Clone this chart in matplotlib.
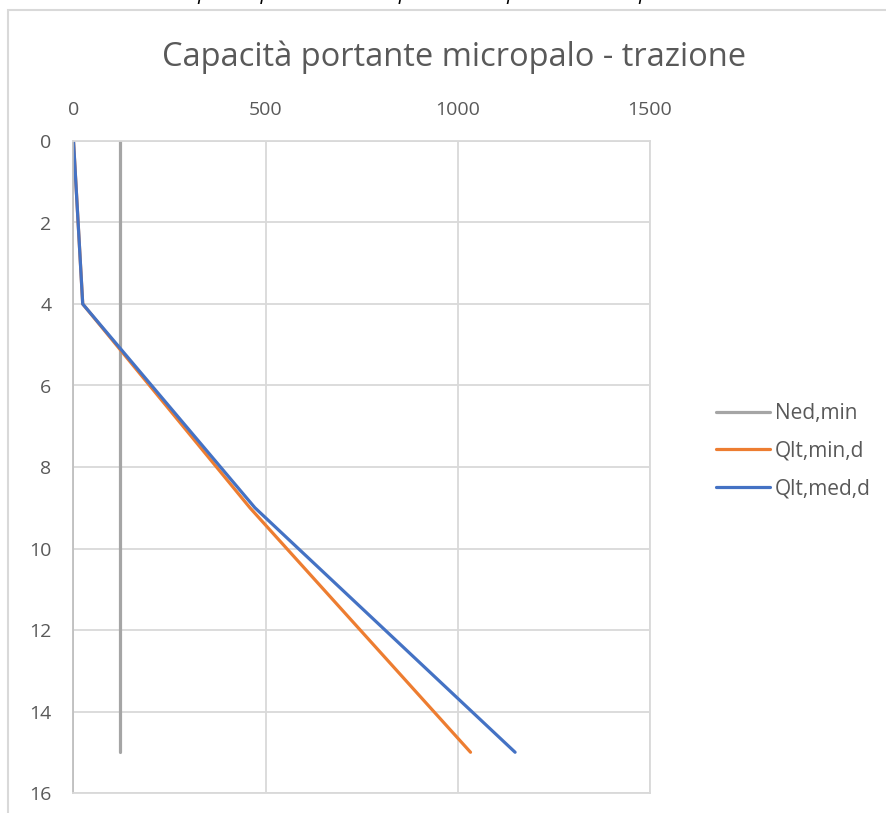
import numpy as np
import matplotlib
matplotlib.use("Agg")
import matplotlib.pyplot as plt
from matplotlib.patches import Rectangle

plt.rcParams['font.family'] = ['Open Sans', 'DejaVu Sans']

# depth (m) vs capacity (kN)
ned_depth = [0, 15]
ned_val = [120, 120]

qmin_depth = [0, 4, 9, 15]
qmin_val = [0, 24, 459, 1033]

qmed_depth = [0, 4, 9, 15]
qmed_val = [0, 24, 472, 1149]

title = "Capacità portante micropalo - trazione"
series_names = ["Ned,min", "Qlt,min,d", "Qlt,med,d"]

W, H = 887, 813
fig = plt.figure(figsize=(W / 100, H / 100), dpi=100)

# chart frame (cropped screenshot of the excel chart)
fig.patches.append(Rectangle((8 / W, -0.1), 1.1, 1.1 - 10 / H,
                             transform=fig.transFigure, fill=False,
                             edgecolor='#D9D9D9', linewidth=1.5))

# document caption cut off at the top, only descenders remain
fig.text(0.5, 1 + 1 / H, "Calcolo capacità portante micropalo in compressione con parametri medi",
         ha='center', va='baseline', fontsize=15, style='italic', color='black')

ax = fig.add_axes([73.5 / W, 1 - 793 / H, (650 - 73.5) / W, (793 - 141) / H])

ax.plot(ned_val, ned_depth, color='#A5A5A5', lw=2.3, solid_capstyle='round', label=series_names[0])
ax.plot(qmin_val, qmin_depth, color='#ED7D31', lw=2.3, solid_capstyle='round', label=series_names[1])
ax.plot(qmed_val, qmed_depth, color='#4472C4', lw=2.3, solid_capstyle='round', label=series_names[2])

ax.set_xlim(0, 1500)
ax.set_ylim(16, 0)
ax.set_xticks([0, 500, 1000, 1500])
ax.set_yticks(np.arange(0, 17, 2))
ax.xaxis.tick_top()
ax.grid(True, color='#D9D9D9', lw=1.3)
ax.set_axisbelow(True)
for s in ['right', 'bottom', 'top']:
    ax.spines[s].set_color('#D9D9D9')
    ax.spines[s].set_linewidth(1.3)
ax.spines['left'].set_color('#BFBFBF')
ax.spines['left'].set_linewidth(1.3)
ax.tick_params(length=0, labelsize=14, labelcolor='#595959')
ax.tick_params(axis='x', pad=16)
ax.tick_params(axis='y', pad=16)

fig.text(454 / W, 1 - 57 / H, title, ha='center', va='center', fontsize=23.5, color='#595959')

ax.legend(loc='center left', bbox_to_anchor=(697 / W, 1 - 451 / H), bbox_transform=fig.transFigure,
          frameon=False, fontsize=15, labelcolor='#595959', handlelength=2.6,
          handletextpad=0.25, labelspacing=0.8)

fig.savefig("out.png", dpi=100)
